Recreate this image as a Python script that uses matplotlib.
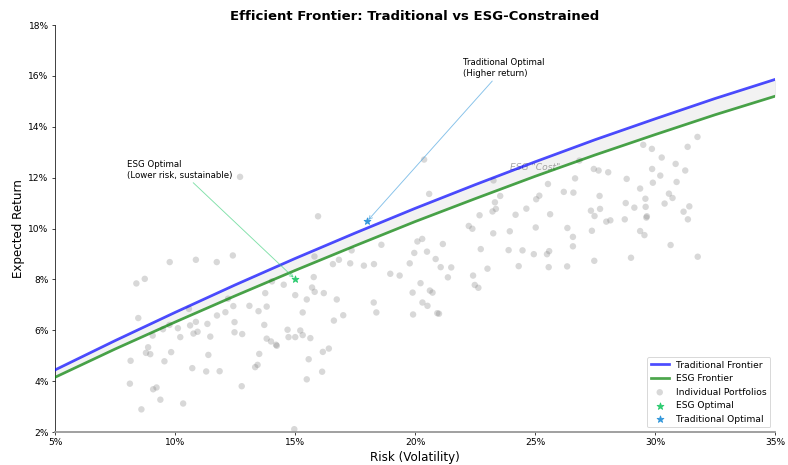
import matplotlib
matplotlib.use("Agg")
import matplotlib.pyplot as plt
from matplotlib.ticker import FuncFormatter

# Frontier curves (risk %, return %)
risk_grid = [5, 7.5, 10, 12.5, 15, 17.5, 20, 22.5, 25, 27.5, 30, 32.5, 35]
trad_frontier = [4.44, 5.59, 6.70, 7.78, 8.82, 9.82, 10.79, 11.72, 12.62, 13.49, 14.31, 15.11, 15.86]
esg_frontier = [4.15, 5.26, 6.32, 7.35, 8.35, 9.32, 10.27, 11.17, 12.05, 12.89, 13.69, 14.47, 15.20]

# Individual portfolios (risk %, return %)
port_risk = [
    12.71, 9.78, 10.87, 11.74, 12.41, 8.39, 8.74, 8.47, 10.58, 10.63, 10.87, 11.35, 11.75, 12.10,
    12.48, 12.43, 12.21, 12.80, 12.48, 11.47, 10.77, 10.94, 10.22, 10.12, 9.77, 9.50, 9.07, 8.88,
    8.79, 8.97, 9.84, 8.15, 9.56, 11.39, 10.72, 11.30, 11.86, 12.78, 8.12, 9.09, 9.23, 9.39,
    10.34, 8.60,
    20.38, 20.59, 15.96, 18.60, 20.10, 20.30, 19.97, 20.50, 20.86, 15.81, 16.83, 17.36, 16.58,
    17.30, 17.87, 18.29, 19.78, 18.97, 19.36, 15.78, 14.53, 14.04, 15.01, 15.49, 15.71, 15.82,
    16.20, 16.74, 13.76, 13.10, 13.48, 13.82, 15.32, 17.01, 16.62, 18.28, 18.39, 19.90, 20.23,
    20.62, 20.73, 20.31, 20.52, 19.92, 13.72, 14.69, 15.22, 14.73, 15.01, 15.32, 15.64, 13.82,
    14.00, 14.21, 14.24, 13.51, 13.44, 13.34, 16.16, 16.41, 15.57, 16.13, 15.49, 14.97, 20.93,
    26.85, 27.45, 27.65, 28.05, 28.82, 23.27, 26.67, 25.54, 26.20, 26.60, 27.69, 28.78, 23.55,
    23.33, 23.37, 23.23, 25.18, 25.05, 24.64, 24.19, 25.63, 22.69, 27.33, 27.48, 27.71, 27.97,
    28.14, 28.74, 22.24, 22.39, 23.26, 23.95, 25.03, 26.35, 27.37, 26.58, 21.16, 22.74, 23.90,
    24.48, 24.95, 25.50, 25.59, 26.58, 27.47, 21.07, 21.51, 21.37, 23.02, 24.32, 25.57, 26.34,
    22.42, 22.49, 22.64, 21.00,
    31.77, 31.36, 29.51, 29.87, 30.28, 30.86, 29.88, 31.26, 30.22, 29.91, 30.90, 29.38, 30.58,
    30.73, 29.60, 29.14, 29.61, 30.40, 31.43, 31.19, 31.37, 29.64, 29.66, 29.38, 29.56, 30.65,
    29.00, 31.78,
]
port_return = [
    12.03, 8.68, 8.77, 8.68, 8.94, 7.84, 8.02, 6.48, 6.84, 6.19, 6.33, 6.25, 6.58, 6.71,
    6.32, 6.95, 7.24, 5.85, 5.92, 5.75, 5.87, 5.94, 5.73, 6.08, 6.21, 6.04, 5.79, 5.33,
    5.11, 5.06, 5.14, 4.80, 4.78, 5.03, 4.51, 4.38, 4.39, 3.80, 3.90, 3.68, 3.75, 3.27,
    3.12, 2.89,
    12.71, 11.36, 10.48, 9.36, 9.49, 9.59, 9.04, 9.09, 8.80, 8.90, 8.77, 9.14, 8.60,
    8.63, 8.54, 8.60, 8.63, 8.22, 8.15, 8.09, 7.79, 7.92, 7.38, 7.21, 7.68, 7.51,
    7.46, 7.21, 7.46, 6.96, 6.75, 6.93, 6.70, 6.59, 6.38, 7.09, 6.70, 7.48, 7.85,
    7.56, 7.48, 7.09, 6.96, 6.62, 6.21, 6.02, 5.99, 5.73, 5.73, 5.81, 5.69, 5.67,
    5.56, 5.43, 5.39, 5.07, 4.64, 4.55, 5.15, 5.28, 4.86, 4.37, 4.07, 2.11, 6.67,
    12.67, 12.34, 12.28, 12.21, 11.95, 11.89, 11.97, 11.75, 11.44, 11.41, 11.28, 11.00, 11.28,
    11.03, 10.77, 10.67, 11.29, 11.15, 10.78, 10.54, 10.56, 10.52, 10.70, 10.49, 10.77, 10.27,
    10.32, 10.36, 10.10, 9.99, 9.81, 9.89, 10.04, 10.02, 9.91, 9.67, 9.39, 9.19, 9.15,
    9.14, 8.99, 8.99, 9.11, 9.30, 8.73, 8.48, 8.47, 8.08, 8.42, 8.52, 8.48, 8.51,
    8.15, 7.78, 7.67, 6.65,
    13.60, 13.21, 13.29, 13.13, 12.79, 12.54, 12.34, 12.28, 12.08, 11.80, 11.83, 11.57, 11.37,
    11.20, 11.17, 10.82, 10.85, 10.98, 10.87, 10.66, 10.36, 10.43, 10.48, 9.90, 9.74, 9.35,
    8.85, 8.89,
]

# Optimal portfolios
esg_opt = (15.0, 8.02)
trad_opt = (18.0, 10.28)

x_ticks = [5, 10, 15, 20, 25, 30, 35]
y_ticks = [2, 4, 6, 8, 10, 12, 14, 16, 18]

DPI = 65.67
fig = plt.figure(figsize=(788 / DPI, 465 / DPI), dpi=DPI)
ax = fig.add_axes([55 / 788, 1 - 432 / 465, 720 / 788, 407 / 465])

ax.fill_between(risk_grid, esg_frontier, trad_frontier, color="gray", alpha=0.1, zorder=1)
ax.text(25.0, 12.4, 'ESG "Cost"', fontsize=10, style="italic", color="gray",
        alpha=0.7, ha="center", va="center", zorder=1)
ax.plot(risk_grid, trad_frontier, color="blue", alpha=0.7, lw=3, label="Traditional Frontier", zorder=3)
ax.plot(risk_grid, esg_frontier, color="green", alpha=0.7, lw=3, label="ESG Frontier", zorder=3)
ax.scatter(port_risk, port_return, s=50, color="gray", alpha=0.3, edgecolors="none",
           label="Individual Portfolios", zorder=2)
ax.scatter([esg_opt[0]], [esg_opt[1]], marker="*", s=60, color="#2ecc71",
           label="ESG Optimal", zorder=5)
ax.scatter([trad_opt[0]], [trad_opt[1]], marker="*", s=60, color="#3498db",
           label="Traditional Optimal", zorder=5)

ax.annotate("ESG Optimal\n(Lower risk, sustainable)", xy=esg_opt, xytext=(8, 12),
            fontsize=9.5, arrowprops=dict(arrowstyle="->", color="#2ecc71", alpha=0.6, lw=1))
ax.annotate("Traditional Optimal\n(Higher return)", xy=trad_opt, xytext=(22, 16),
            fontsize=9.5, arrowprops=dict(arrowstyle="->", color="#3498db", alpha=0.6, lw=1))

ax.set_xlim(5, 35)
ax.set_ylim(2, 18)
ax.set_xticks(x_ticks)
ax.set_yticks(y_ticks)
ax.xaxis.set_major_formatter(FuncFormatter(lambda v, p: f"{v:.0f}%"))
ax.yaxis.set_major_formatter(FuncFormatter(lambda v, p: f"{v:.0f}%"))
ax.tick_params(labelsize=10)
ax.set_xlabel("Risk (Volatility)", fontsize=13)
ax.set_ylabel("Expected Return", fontsize=13)
ax.set_title("Efficient Frontier: Traditional vs ESG-Constrained", fontsize=14.5, fontweight="bold")
ax.spines["top"].set_visible(False)
ax.spines["right"].set_visible(False)
ax.spines["bottom"].set_color("#999999")
ax.spines["bottom"].set_linewidth(2)

ax.legend(loc="lower right", fontsize=10)

fig.savefig("out.png", dpi=DPI)
